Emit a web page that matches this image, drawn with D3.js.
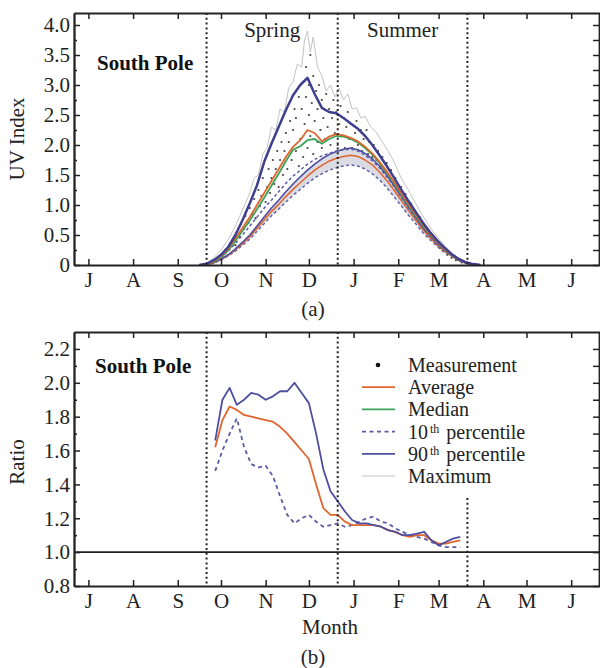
<!DOCTYPE html>
<html>
<head>
<meta charset="utf-8">
<script src="https://cdn.jsdelivr.net/npm/d3@7"></script>
<style>
  body { margin: 0; background: #fff; }
  svg { display: block; font-family: "Liberation Serif", "DejaVu Serif", serif; }
</style>
</head>
<body>
<svg id="chart" width="600" height="668"></svg>
<script>
// ---- data (month-day; Jul-Dec fall in 2000, Jan-Jun in 2001) ----
const monthLabels = ["J", "A", "S", "O", "N", "D", "J", "F", "M", "A", "M", "J"];
const seasonDates = ["09-21", "12-21", "03-21"];
const seasonNames = ["Spring", "Summer"];

// 5-day grid for the UV climatology curves (panel a)
const gridDates = ["09-16","09-21","09-26","10-01","10-06","10-11","10-16","10-21","10-26","10-31",
  "11-05","11-10","11-15","11-20","11-25","11-30","12-05","12-10","12-15","12-20",
  "12-25","12-30","01-04","01-09","01-14","01-19","01-24","01-29","02-03","02-08",
  "02-13","02-18","02-23","02-28","03-05","03-10","03-15","03-20","03-25","03-30"];
// recent period
const uv90 = [0,0.02,0.08,0.17,0.3,0.5,0.75,1.03,1.33,1.72, 2.02,2.3,2.58,2.83,3.0,3.12,2.85,2.62,2.55,2.53,
  2.45,2.36,2.27,2.15,2.0,1.83,1.65,1.46,1.26,1.07, 0.89,0.71,0.55,0.41,0.29,0.18,0.1,0.045,0.015,0];
const uvAvg = [0,0.01,0.06,0.15,0.27,0.44,0.62,0.8,1.0,1.2, 1.4,1.6,1.8,1.97,2.08,2.25,2.2,2.06,2.14,2.18,
  2.16,2.12,2.06,1.97,1.86,1.72,1.56,1.39,1.2,1.02, 0.85,0.68,0.52,0.39,0.27,0.17,0.09,0.04,0.012,0];
const uvMed = [0,0.01,0.05,0.13,0.24,0.4,0.57,0.74,0.93,1.12, 1.32,1.52,1.73,1.92,1.98,2.08,2.1,2.02,2.1,2.15,
  2.14,2.1,2.04,1.95,1.84,1.7,1.54,1.37,1.18,1.0, 0.83,0.66,0.51,0.38,0.26,0.16,0.085,0.038,0.011,0];
const uv10 = [0,0.01,0.05,0.13,0.23,0.36,0.5,0.65,0.8,0.95, 1.08,1.22,1.36,1.48,1.58,1.68,1.76,1.82,1.86,1.9,
  1.92,1.93,1.9,1.83,1.74,1.62,1.47,1.31,1.13,0.95, 0.79,0.62,0.48,0.36,0.25,0.16,0.08,0.035,0.01,0];
// reference period
const ref90 = [0,0.01,0.04,0.1,0.17,0.27,0.38,0.5,0.65,0.8, 0.95,1.08,1.22,1.35,1.47,1.58,1.68,1.77,1.84,1.89,
  1.93,1.95,1.92,1.86,1.77,1.65,1.5,1.33,1.15,0.97, 0.8,0.63,0.49,0.36,0.25,0.16,0.08,0.035,0.01,0];
const refAvg = [0,0.01,0.035,0.09,0.16,0.25,0.36,0.47,0.61,0.75, 0.89,1.01,1.14,1.26,1.37,1.48,1.58,1.66,1.73,1.78,
  1.81,1.83,1.81,1.75,1.67,1.55,1.41,1.25,1.08,0.91, 0.75,0.59,0.46,0.34,0.23,0.15,0.075,0.03,0.01,0];
const ref10 = [0,0.01,0.03,0.085,0.15,0.23,0.33,0.43,0.56,0.69, 0.82,0.93,1.05,1.16,1.26,1.36,1.45,1.52,1.58,1.62,
  1.65,1.67,1.65,1.6,1.52,1.42,1.29,1.14,0.99,0.83, 0.69,0.54,0.42,0.31,0.21,0.14,0.07,0.03,0.01,0];

// daily maximum
const maxDates = ["09-16","09-21","09-26","10-01","10-06","10-11","10-16","10-21","10-24","10-27","10-30",
  "11-02","11-05","11-08","11-11","11-14","11-17","11-20","11-23","11-26","11-28","11-30",
  "12-02","12-04","12-07","12-10","12-13","12-16","12-19","12-22","12-25","12-28","12-31",
  "01-03","01-06","01-09","01-13","01-17","01-21","01-25","01-29","02-03","02-08","02-13",
  "02-18","02-23","02-28","03-05","03-10","03-15","03-20","03-25","03-30"];
const maxUV = [0,0.03,0.12,0.25,0.42,0.65,0.92,1.2,1.45,1.5,1.85,
  1.95,2.3,2.25,2.6,2.55,2.95,3.05,3.35,3.3,3.75,3.9,
  3.55,3.8,3.3,3.15,2.9,3.0,2.8,2.95,2.75,2.85,2.6,
  2.62,2.45,2.48,2.3,2.2,2.05,1.9,1.72,1.45,1.25,1.03,
  0.82,0.63,0.47,0.33,0.21,0.11,0.05,0.015,0];

// individual measurements
const measurements = [["09-28",0.08],["10-02",0.15],["10-04",0.24],["10-07",0.3],["10-09",0.4],["10-11",0.33],
  ["10-12",0.55],["10-14",0.47],["10-15",0.68],["10-17",0.6],["10-18",0.82],["10-20",0.7],["10-21",0.95],
  ["10-23",0.85],["10-24",1.1],["10-25",0.78],["10-27",1.25],["10-28",0.98],["10-29",1.15],["10-30",1.45],
  ["11-01",1.05],["11-02",1.3],["11-03",1.6],["11-04",1.2],["11-05",1.45],["11-06",1.75],["11-07",1.35],
  ["11-08",1.6],["11-09",1.9],["11-10",1.3],["11-11",1.75],["11-12",2.05],["11-13",1.5],["11-14",1.9],
  ["11-15",2.2],["11-16",1.6],["11-17",2.05],["11-18",2.4],["11-19",1.75],["11-20",2.25],["11-21",2.6],
  ["11-22",1.9],["11-22",2.45],["11-24",2.8],["11-24",1.65],["11-25",2.1],["11-26",2.6],["11-27",3.05],
  ["11-27",1.8],["11-28",2.35],["11-29",2.8],["11-29",3.3],["11-30",1.95],["12-01",2.5],["12-01",3.0],
  ["12-02",3.5],["12-02",2.15],["12-03",2.7],["12-04",1.85],["12-04",3.15],["12-05",2.4],["12-06",2.9],
  ["12-07",2.05],["12-07",2.6],["12-08",3.0],["12-09",2.25],["12-10",1.95],["12-10",2.75],["12-11",2.45],
  ["12-12",2.1],["12-13",2.85],["12-14",2.3],["12-15",2.6],["12-16",2.0],["12-17",2.45],["12-18",2.75],
  ["12-19",2.2],["12-20",2.55],["12-21",2.0],["12-22",2.35],["12-23",2.65],["12-24",2.15],["12-25",2.45],
  ["12-26",1.95],["12-27",2.3],["12-28",2.55],["12-29",2.1],["12-30",2.35],["12-31",1.95],["01-02",2.2],
  ["01-03",2.4],["01-04",2.0],["01-06",2.25],["01-07",1.9],["01-08",2.1],["01-10",2.25],["01-11",1.85],
  ["01-12",2.05],["01-14",1.8],["01-15",2.0],["01-17",1.75],["01-18",1.9],["01-20",1.65],["01-21",1.8],
  ["01-23",1.55],["01-24",1.7],["01-26",1.45],["01-27",1.58],["01-29",1.35],["01-30",1.45],["02-01",1.22],
  ["02-03",1.3],["02-05",1.1],["02-06",1.18],["02-08",0.98],["02-10",1.02],["02-11",0.9],["02-13",0.85],
  ["02-15",0.75],["02-16",0.8],["02-18",0.64],["02-20",0.6],["02-22",0.52],["02-24",0.45],["02-26",0.4],
  ["02-28",0.34],["03-02",0.28],["03-04",0.24],["03-07",0.17],["03-10",0.12],["03-13",0.08],["03-17",0.04]];

// ratio recent / reference (panel b)
const ratioDates = ["09-27","10-02","10-07","10-12","10-17","10-22","10-27","11-01","11-06","11-11",
  "11-16","11-21","11-26","12-01","12-06","12-11","12-16","12-21","12-26","12-31",
  "01-05","01-10","01-15","01-20","01-25","01-30","02-04","02-09","02-14","02-19",
  "02-24","03-01","03-06","03-11","03-16"];
const ratio90 = [1.66,1.9,1.97,1.87,1.9,1.94,1.93,1.9,1.92,1.95, 1.95,2.0,1.94,1.88,1.7,1.49,1.36,1.3,1.24,1.19,
  1.17,1.17,1.16,1.15,1.13,1.12,1.1,1.1,1.11,1.12, 1.07,1.04,1.06,1.08,1.09];
const ratioAvg = [1.62,1.78,1.86,1.84,1.81,1.8,1.79,1.78,1.77,1.74, 1.7,1.65,1.6,1.55,1.4,1.26,1.22,1.22,1.18,1.16,
  1.16,1.16,1.16,1.15,1.13,1.12,1.1,1.09,1.1,1.1, 1.07,1.05,1.05,1.06,1.07];
const ratio10 = [1.48,1.6,1.7,1.79,1.62,1.52,1.5,1.51,1.45,1.33, 1.22,1.17,1.2,1.22,1.18,1.15,1.16,1.17,1.15,1.16,
  1.18,1.2,1.21,1.18,1.17,1.14,1.12,1.1,1.09,1.08, 1.06,1.04,1.03,1.03,1.03];

// ---- helpers ----
const parseMD = s => {
  const [m, d] = s.split("-").map(Number);
  return new Date(Date.UTC(m >= 7 ? 2000 : 2001, m - 1, d));
};
const C = {
  blue: "#3f3f90", blue2: "#4e4ea0", dash: "#5c5ca6", orange: "#e0652d",
  green: "#3ca45a", gray: "#c4c4c4", ink: "#222"
};

const svg = d3.select("#chart");
const x = d3.scaleUtc()
  .domain([new Date(Date.UTC(2000, 5, 21)), new Date(Date.UTC(2001, 5, 21))])
  .range([74, 600]);
const monthTicks = d3.utcMonth.range(new Date(Date.UTC(2000, 6, 1)), new Date(Date.UTC(2001, 6, 1)));

const yUV = d3.scaleLinear().domain([0, 4.2]).range([265, 13]);
const yR = d3.scaleLinear().domain([0.8, 2.3]).range([586, 332]);

function styleAxis(g) {
  g.attr("font-family", null).attr("font-size", 21);
  g.select(".domain").attr("stroke", C.ink).attr("stroke-width", 1.8);
  g.selectAll(".tick line").attr("stroke", C.ink).attr("stroke-width", 1.5);
  g.selectAll(".tick text").attr("fill", C.ink);
}

function drawFrame(y, major, minor, right, fmt) {
  const [y0, y1] = y.range();
  svg.append("g").attr("transform", `translate(0,${y0})`)
    .call(d3.axisBottom(x).tickValues(monthTicks).tickFormat((d, i) => monthLabels[i])
      .tickSize(-6).tickPadding(7).tickSizeOuter(0))
    .call(styleAxis);
  svg.append("g").attr("transform", `translate(0,${y1})`)
    .call(d3.axisTop(x).tickValues(monthTicks).tickFormat("").tickSize(-6).tickSizeOuter(0))
    .call(styleAxis);
  svg.append("g").attr("transform", "translate(74,0)")
    .call(d3.axisLeft(y).tickValues(major).tickFormat(fmt).tickSize(-6).tickPadding(4).tickSizeOuter(0))
    .call(styleAxis);
  svg.append("g").attr("transform", "translate(74,0)")
    .call(d3.axisLeft(y).tickValues(minor).tickFormat("").tickSize(-3).tickSizeOuter(0))
    .call(styleAxis);
  svg.append("g").attr("transform", "translate(599,0)")
    .call(d3.axisRight(y).tickValues(right).tickFormat("").tickSize(-6).tickSizeOuter(0))
    .call(styleAxis);
}

function seasonLine(date, yTop, yBottom) {
  svg.append("line")
    .attr("x1", x(parseMD(date))).attr("x2", x(parseMD(date)))
    .attr("y1", yTop).attr("y2", yBottom)
    .attr("stroke", C.ink).attr("stroke-width", 2).attr("stroke-dasharray", "2,2.8");
}

function addLine(dates, values, y, color, width, dash) {
  const pts = dates.map((d, i) => [parseMD(d), values[i]]);
  svg.append("path").datum(pts)
    .attr("fill", "none").attr("stroke", color).attr("stroke-width", width)
    .attr("stroke-linejoin", "round")
    .attr("stroke-dasharray", dash || null)
    .attr("d", d3.line().x(d => x(d[0])).y(d => y(d[1])));
}

// ---- panel (a): UV index ----
const band = gridDates.map((d, i) => [parseMD(d), ref10[i], ref90[i]]);
svg.append("path").datum(band)
  .attr("fill", "#cfcfd9").attr("opacity", 0.75)
  .attr("d", d3.area().x(d => x(d[0])).y0(d => yUV(d[1])).y1(d => yUV(d[2])));

addLine(maxDates, maxUV, yUV, C.gray, 1);

svg.append("g").selectAll("circle").data(measurements).join("circle")
  .attr("cx", d => x(parseMD(d[0]))).attr("cy", d => yUV(d[1]))
  .attr("r", 1.1).attr("fill", "#444");

addLine(gridDates, ref10, yUV, C.dash, 1.4, "3,2.5");
addLine(gridDates, refAvg, yUV, C.orange, 1.5);
addLine(gridDates, ref90, yUV, C.blue2, 1.6);
addLine(gridDates, uv10, yUV, C.dash, 1.5, "3,2.5");
addLine(gridDates, uvMed, yUV, C.green, 1.8);
addLine(gridDates, uvAvg, yUV, C.orange, 1.8);
addLine(gridDates, uv90, yUV, C.blue, 2.5);

seasonDates.forEach(d => seasonLine(d, 13, 265));
drawFrame(yUV, d3.range(0, 9).map(v => v / 2), d3.range(0, 8).map(v => v / 2 + 0.25),
  d3.range(0, 17).map(v => v / 4), v => v === 0 ? "0" : d3.format(".1f")(v));

seasonNames.forEach((name, i) => {
  const a = parseMD(seasonDates[i]), b = parseMD(seasonDates[i + 1]);
  svg.append("text").attr("x", x(new Date((+a + +b) / 2))).attr("y", 37)
    .attr("text-anchor", "middle").attr("font-size", 21).attr("fill", C.ink).text(name);
});
svg.append("text").attr("x", 97).attr("y", 70).attr("font-size", 21).attr("font-weight", "bold")
  .attr("fill", "#111").text("South Pole");
svg.append("text").attr("transform", "translate(24,139) rotate(-90)").attr("text-anchor", "middle")
  .attr("font-size", 21).attr("fill", C.ink).text("UV Index");
svg.append("text").attr("x", 313).attr("y", 316).attr("text-anchor", "middle")
  .attr("font-size", 21).attr("fill", C.ink).text("(a)");

// ---- panel (b): ratio ----
svg.append("line").attr("x1", 74).attr("x2", 600).attr("y1", yR(1)).attr("y2", yR(1))
  .attr("stroke", C.ink).attr("stroke-width", 1.6);

addLine(ratioDates, ratio10, yR, C.dash, 1.8, "4,3.5");
addLine(ratioDates, ratioAvg, yR, C.orange, 1.8);
addLine(ratioDates, ratio90, yR, C.blue2, 1.8);

seasonLine(seasonDates[0], 332, 586);
seasonLine(seasonDates[1], 332, 586);
seasonLine(seasonDates[2], yR(1.32), 586);

drawFrame(yR, d3.range(8, 23, 2).map(v => v / 10), d3.range(9, 23, 2).map(v => v / 10),
  d3.range(8, 23).map(v => v / 10), d3.format(".1f"));

svg.append("text").attr("x", 95).attr("y", 373).attr("font-size", 21).attr("font-weight", "bold")
  .attr("fill", "#111").text("South Pole");
svg.append("text").attr("transform", "translate(24,462) rotate(-90)").attr("text-anchor", "middle")
  .attr("font-size", 21).attr("fill", C.ink).text("Ratio");
svg.append("text").attr("x", 330).attr("y", 634).attr("text-anchor", "middle")
  .attr("font-size", 21).attr("fill", C.ink).text("Month");
svg.append("text").attr("x", 313).attr("y", 664).attr("text-anchor", "middle")
  .attr("font-size", 21).attr("fill", C.ink).text("(b)");

// legend
const legendItems = [
  { label: "Measurement", type: "dot" },
  { label: "Average", color: C.orange },
  { label: "Median", color: C.green },
  { label: "10", sup: "th", rest: "percentile", color: C.dash, dash: "4,3.5" },
  { label: "90", sup: "th", rest: "percentile", color: C.blue2 },
  { label: "Maximum", color: C.gray, width: 1 }
];
const legend = svg.append("g").attr("transform", "translate(362,372)");
legendItems.forEach((it, i) => {
  const row = legend.append("g").attr("transform", `translate(0,${i * 22.2})`);
  if (it.type === "dot") {
    row.append("circle").attr("cx", 16).attr("cy", -7).attr("r", 2.3).attr("fill", "#111");
  } else {
    row.append("line").attr("x1", 0).attr("x2", 33).attr("y1", -7).attr("y2", -7)
      .attr("stroke", it.color).attr("stroke-width", it.width || 1.8)
      .attr("stroke-dasharray", it.dash || null);
  }
  const t = row.append("text").attr("x", 46).attr("y", 0).attr("font-size", 20).attr("fill", C.ink);
  t.append("tspan").text(it.label);
  if (it.sup) {
    t.append("tspan").attr("font-size", 12).attr("dx", 2).attr("dy", -6).text(it.sup);
    t.append("tspan").attr("dx", 7).attr("dy", 6).text(it.rest);
  }
});
</script>
</body>
</html>
